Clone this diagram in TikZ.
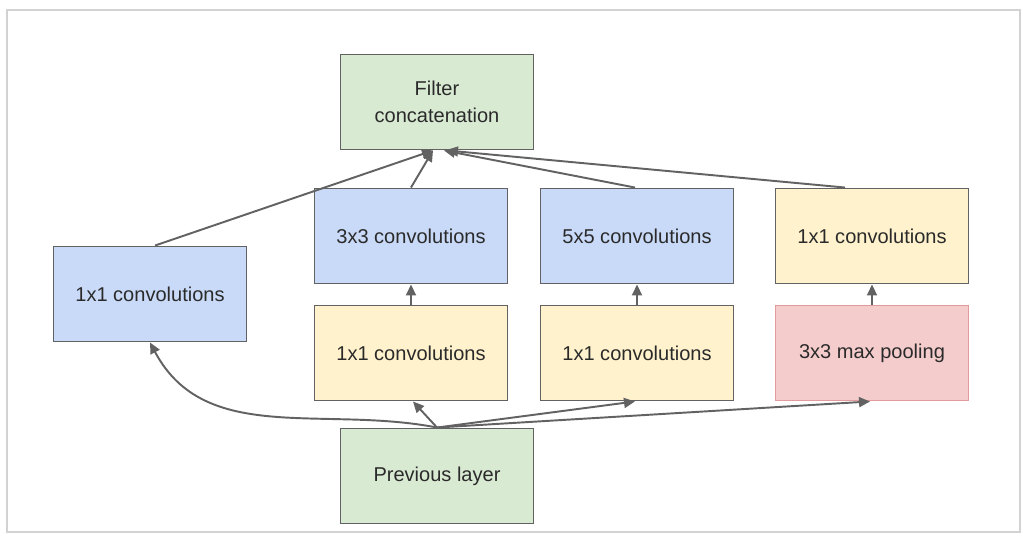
\documentclass[tikz,border=0pt]{standalone}
\usepackage{fontspec}
\setmainfont{Liberation Sans}
\usepackage{tikz}
\usetikzlibrary{arrows.meta, positioning}
\definecolor{BlockGreen}{HTML}{D9EAD3}
\definecolor{BlockBlue}{HTML}{C9DAF8}
\definecolor{BlockYellow}{HTML}{FFF2CC}
\definecolor{BlockRed}{HTML}{F4CCCC}
\definecolor{PoolEdge}{HTML}{E39A9A}
\definecolor{EdgeGrey}{HTML}{626262}
\definecolor{TextGrey}{HTML}{2A2A2A}

\tikzset{
  block/.style={draw=EdgeGrey, line width=1.1pt, minimum width=3.86cm, minimum height=1.9cm,
    align=center, text=TextGrey, font=\fontsize{11.4}{15}\selectfont},
  flow/.style={draw=EdgeGrey, line width=1.1pt, -{Triangle[length=2.2mm, width=2mm]}}
}

\begin{document}
\begin{tikzpicture}
  \useasboundingbox (0cm, 0cm) rectangle (20.44cm, -10.82cm);
  % thin frame round the whole module
  \draw[gray!35, line width=0.8pt] (0.14cm, -0.2cm) rectangle (20.40cm, -10.64cm);

  % output and input
  \node[block, fill=BlockGreen] (concat) at (8.74cm, -2.04cm) {Filter\\concatenation};
  \node[block, fill=BlockGreen] (prev) at (8.74cm, -9.52cm) {Previous layer};

  % branch blocks
  \node[block, fill=BlockBlue] (conv1) at (3.0cm, -5.88cm) {1x1 convolutions};
  \node[block, fill=BlockBlue] (conv3) at (8.22cm, -4.72cm) {3x3 convolutions};
  \node[block, fill=BlockBlue] (conv5) at (12.74cm, -4.72cm) {5x5 convolutions};
  \node[block, fill=BlockYellow] (convpool) at (17.44cm, -4.72cm) {1x1 convolutions};
  \node[block, fill=BlockYellow] (red3) at (8.22cm, -7.06cm) {1x1 convolutions};
  \node[block, fill=BlockYellow] (red5) at (12.74cm, -7.06cm) {1x1 convolutions};
  \node[block, fill=BlockRed, draw=PoolEdge] (pool) at (17.44cm, -7.06cm) {3x3 max pooling};

  % from previous layer into the branches
  \draw[flow] (prev.north) to[out=169, in=-62] (conv1.south);
  \draw[flow] (prev.north) -- ([xshift=0.04cm]red3.south);
  \draw[flow] (prev.north) -- ([xshift=-0.04cm]red5.south);
  \draw[flow] (prev.north) -- ([xshift=-0.04cm]pool.south);

  % inside the branches
  \draw[flow] (red3) -- (conv3);
  \draw[flow] (red5) -- (conv5);
  \draw[flow] (pool) -- (convpool);

  % branches into the concatenation
  \draw[flow] ([xshift=0.1cm]conv1.north) -- ([xshift=-0.08cm]concat.south);
  \draw[flow] (conv3.north) -- ([xshift=-0.08cm]concat.south);
  \draw[flow] ([xshift=-0.04cm]conv5.north) -- ([xshift=0.14cm]concat.south);
  \draw[flow] ([xshift=-0.54cm]convpool.north) -- ([xshift=0.2cm]concat.south);
\end{tikzpicture}
\end{document}
